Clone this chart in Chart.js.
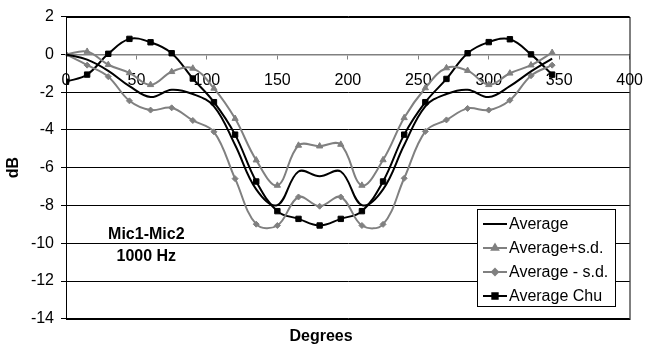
<!DOCTYPE html>
<html>
<head>
<meta charset="utf-8">
<script src="https://cdn.jsdelivr.net/npm/chart.js@4/dist/chart.umd.min.js"></script>
<style>
html,body{margin:0;padding:0;background:#fff;}
#wrap{width:656px;height:353px;position:relative;}
</style>
</head>
<body>
<div id="wrap"><canvas id="c" width="656" height="353"></canvas></div>
<script>
const degrees = [0,15,30,45,60,75,90,105,120,135,150,165,180,195,210,225,240,255,270,285,300,315,330,345];
const average = [0,-0.28,-0.87,-1.68,-2.26,-1.87,-2.1,-2.75,-4.8,-7.15,-7.98,-6.2,-6.45,-6.2,-7.98,-7.15,-4.8,-2.75,-2.1,-1.87,-2.26,-1.68,-0.9,-0.22];
const averagePlusSd = [0,0.15,-0.55,-0.98,-1.61,-0.92,-0.74,-1.8,-3.4,-5.6,-6.94,-4.82,-4.86,-4.77,-6.94,-5.59,-3.36,-1.78,-0.72,-0.86,-1.61,-1.0,-0.57,0.09];
const averageMinusSd = [0,-0.57,-1.18,-2.46,-2.95,-2.83,-3.5,-4.1,-6.58,-8.99,-9.06,-7.55,-8.04,-7.55,-9.06,-9.0,-6.56,-4.08,-3.47,-2.86,-2.95,-2.43,-1.13,-0.57];
const averageChu = [-1.45,-1.07,0.03,0.82,0.64,0.06,-1.28,-2.53,-4.25,-6.73,-8.3,-8.71,-9.06,-8.71,-8.3,-6.73,-4.25,-2.53,-1.3,0.06,0.65,0.8,0.0,-1.07];
const seriesNames = ['Average','Average+s.d.','Average - s.d.','Average Chu'];
const xTicks = [0,50,100,150,200,250,300,350,400];
const yTicks = [-14,-12,-10,-8,-6,-4,-2,0,2];
const noteLines = ['Mic1-Mic2','1000 Hz'];
const notePos = {x: 57, y: -9.55, y2: -10.7};

const FONT = 'Liberation Sans, Arial, sans-serif';
const GRAY = '#808080';

function pts(ys){ return degrees.map((d,i)=>({x:d,y:ys[i]})); }

const frame = {
  id:'frame',
  afterDraw(chart){
    const {ctx, chartArea:a, scales} = chart;
    ctx.save();
    ctx.strokeStyle = '#000'; ctx.lineWidth = 1;
    ctx.strokeRect(Math.round(a.left)+0.5, Math.round(a.top)+0.5, Math.round(a.right-a.left)-0.5, Math.round(a.bottom-a.top));
    // annotation
    ctx.fillStyle = '#000';
    ctx.font = 'bold 16px ' + FONT;
    ctx.textAlign = 'center'; ctx.textBaseline = 'middle';
    const nx = scales.x.getPixelForValue(notePos.x);
    ctx.fillText(noteLines[0], nx, scales.y.getPixelForValue(notePos.y));
    ctx.fillText(noteLines[1], nx, scales.y.getPixelForValue(notePos.y2));
    // legend
    const L = 477, T = 209, R = 615, B = 306;
    ctx.fillStyle = '#fff'; ctx.fillRect(L, T, R-L, B-T);
    ctx.strokeStyle = '#000'; ctx.lineWidth = 1;
    ctx.strokeRect(L+0.5, T+0.5, R-L, B-T);
    const rows = [224, 248, 272, 296];
    chart.data.datasets.forEach((ds, i) => {
      const y = rows[i];
      ctx.strokeStyle = ds.borderColor; ctx.lineWidth = 2;
      ctx.beginPath(); ctx.moveTo(483, y); ctx.lineTo(507, y); ctx.stroke();
      if (ds.pointStyle && ds.pointRadius > 0) {
        Chart.helpers.drawPoint(ctx, {pointStyle: ds.pointStyle, radius: ds.pointRadius, rotation: 0, borderWidth: 1}, 495, y);
        ctx.fillStyle = ds.pointBackgroundColor; ctx.fill();
      }
      ctx.fillStyle = '#000';
      ctx.font = '16px ' + FONT;
      ctx.textAlign = 'left'; ctx.textBaseline = 'middle';
      ctx.fillText(ds.label, 509, y + 1);
    });
    ctx.restore();
  }
};

new Chart(document.getElementById('c'), {
  type: 'line',
  data: {
    datasets: [
      {label: seriesNames[0], data: pts(average), borderColor:'#000', backgroundColor:'#000', borderWidth:2, pointRadius:0, pointStyle:false, tension:0.38},
      {label: seriesNames[1], data: pts(averagePlusSd), borderColor:GRAY, backgroundColor:GRAY, pointBackgroundColor:GRAY, pointBorderColor:GRAY, borderWidth:2, pointStyle:'triangle', pointRadius:3.6, pointBorderWidth:1, tension:0.38},
      {label: seriesNames[2], data: pts(averageMinusSd), borderColor:GRAY, backgroundColor:GRAY, pointBackgroundColor:GRAY, pointBorderColor:GRAY, borderWidth:2, pointStyle:'rectRot', pointRadius:3, pointBorderWidth:1, tension:0.38},
      {label: seriesNames[3], data: pts(averageChu), borderColor:'#000', backgroundColor:'#000', pointBackgroundColor:'#000', pointBorderColor:'#000', borderWidth:2, pointStyle:'rect', pointRadius:3.8, pointBorderWidth:1, tension:0.38}
    ]
  },
  options: {
    responsive:false, animation:false, devicePixelRatio:1,
    layout:{padding:{left:0,right:14,top:12,bottom:0}},
    plugins:{
      legend:{display:false}, tooltip:{enabled:false},
      title:{display:true, position:'bottom', text:'Degrees', color:'#000', font:{family:FONT, size:16, weight:'bold'}, padding:{top:8, bottom:7}}
    },
    scales:{
      x:{
        type:'linear', min:0, max:400, position:{y:0},
        afterBuildTicks(s){ s.ticks = xTicks.map(v=>({value:v})); },
        grid:{drawOnChartArea:false, tickLength:4, tickColor:GRAY, tickWidth:1},
        border:{color:GRAY, width:1.5},
        ticks:{color:'#000', padding:13, font:{family:FONT, size:16}, maxRotation:0, autoSkip:false}
      },
      y:{
        type:'linear', min:-14, max:2,
        afterBuildTicks(s){ s.ticks = yTicks.map(v=>({value:v})); },
        afterFit(s){ s.width = 66; },
        grid:{color:(c)=> c.tick && c.tick.value===0 ? 'rgba(0,0,0,0)' : '#000', tickColor:'#000', tickLength:5, lineWidth:1},
        border:{color:'#000', width:1},
        ticks:{color:'#000', padding:7, font:{family:FONT, size:16}},
        title:{display:true, text:'dB', color:'#000', font:{family:FONT, size:16, weight:'bold'}, padding:{top:4,bottom:4}}
      }
    }
  },
  plugins:[frame]
});
</script>
</body>
</html>
